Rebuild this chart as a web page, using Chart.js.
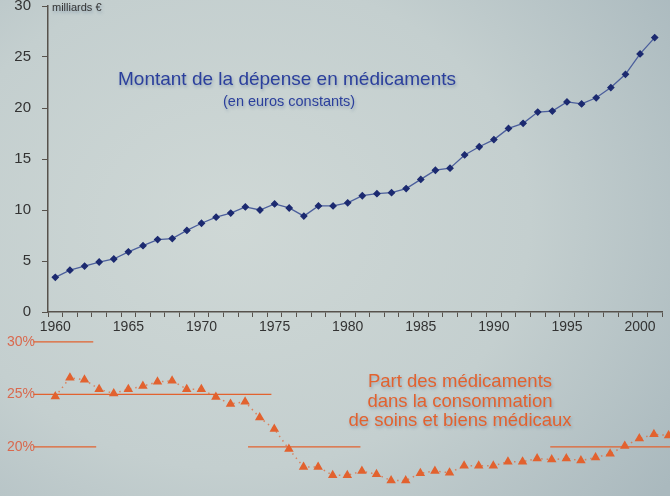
<!DOCTYPE html>
<html>
<head>
<meta charset="utf-8">
<script src="https://cdn.jsdelivr.net/npm/chart.js@4"></script>
<style>
  html, body { margin: 0; padding: 0; }
  body {
    width: 670px; height: 496px; overflow: hidden; position: relative;
    background: radial-gradient(ellipse 80% 90% at 35% 45%, #cfd8d6 0%, #c4cfcf 55%, #aab9be 100%);
    font-family: "Liberation Sans", Arial, sans-serif;
  }
  #top { position: absolute; left: 0; top: 0; }
  #bottom { position: absolute; left: 0; top: 332px; }
  .note { position: absolute; white-space: nowrap; text-shadow: 1px 2px 3px rgba(90,120,150,0.45); }
  #unit { left: 52px; top: 1px; font-size: 11px; color: #333; }
  #title1 { left: 118px; top: 68px; font-size: 19px; color: #2b3f9c; }
  #title2 { left: 223px; top: 93px; font-size: 14.5px; color: #2b3f9c; }
  #title3 { left: 320px; top: 371px; width: 280px; text-align: center; font-size: 18.5px; line-height: 19.5px; color: #e2622f; }
</style>
</head>
<body>
<canvas id="top" width="670" height="340"></canvas>
<canvas id="bottom" width="670" height="164"></canvas>
<div class="note" id="unit">milliards €</div>
<div class="note" id="title1">Montant de la dépense en médicaments</div>
<div class="note" id="title2">(en euros constants)</div>
<div class="note" id="title3">Part des médicaments<br>dans la consommation<br>de soins et biens médicaux</div>
<script>
Chart.defaults.font.family = '"Liberation Sans", Arial, sans-serif';

// dépense en médicaments, milliards d'euros constants, 1960-2001
const years = [];
for (let y = 1960; y <= 2001; y++) years.push(String(y));
const depense = [3.4, 4.1, 4.5, 4.9, 5.2, 5.9, 6.5, 7.1, 7.2, 8.0,
                 8.7, 9.3, 9.7, 10.3, 10.0, 10.6, 10.2, 9.4, 10.4, 10.4,
                 10.7, 11.4, 11.6, 11.7, 12.1, 13.0, 13.9, 14.1, 15.4, 16.2,
                 16.9, 18.0, 18.5, 19.6, 19.7, 20.6, 20.4, 21.0, 22.0, 23.3,
                 25.3, 26.9];

// part des médicaments dans la CSBM (%), 1960-2002
const partYears = [];
for (let y = 1960; y <= 2002; y++) partYears.push(y);
const part = [24.8, 26.6, 26.4, 25.5, 25.1, 25.5, 25.8, 26.2, 26.3, 25.5,
              25.5, 24.75, 24.1, 24.3, 22.8, 21.7, 19.8, 18.1, 18.1, 17.3,
              17.3, 17.7, 17.4, 16.8, 16.8, 17.5, 17.7, 17.55, 18.2, 18.2,
              18.2, 18.6, 18.6, 18.9, 18.8, 18.9, 18.7, 19.0, 19.35, 20.1,
              20.8, 21.2, 21.1];

// repères horizontaux du graphique du bas (niveau, début, fin en années)
const refLevels = [30, 25, 20, 20, 20];
const refStarts = [1958.5, 1958.5, 1958.5, 1973.2, 1993.9];
const refEnds   = [1962.6, 1974.8, 1962.8, 1980.9, 2003];
const pctTicks = [20, 25, 30];

const axisColor = '#57524c';
const orange = '#e2622f';

new Chart(document.getElementById('top'), {
  type: 'line',
  data: {
    labels: years,
    datasets: [{
      data: depense,
      borderColor: '#4c5f9c',
      borderWidth: 1.3,
      pointStyle: 'rectRot',
      pointRadius: 3,
      pointBackgroundColor: '#1c2a70',
      pointBorderColor: '#1c2a70',
      tension: 0
    }]
  },
  options: {
    responsive: false,
    animation: false,
    layout: { padding: { top: 6, right: 8, left: 0, bottom: 0 }, autoPadding: false },
    plugins: { legend: { display: false }, tooltip: { enabled: false } },
    scales: {
      x: {
        offset: true,
        grid: { offset: true, drawOnChartArea: false, color: axisColor, tickLength: 5, lineWidth: 1 },
        border: { color: axisColor, width: 1.5 },
        ticks: {
          autoSkip: false, maxRotation: 0, padding: 2,
          color: '#333', font: { size: 14 },
          callback: function (v, i) { return (1960 + i) % 5 === 0 ? this.getLabelForValue(v) : ''; }
        },
        afterFit: s => { s.height = 28; s.paddingLeft = 0; s.paddingRight = 0; }
      },
      y: {
        min: 0, max: 30,
        grid: { drawOnChartArea: false, color: axisColor, tickLength: 6 },
        border: { color: axisColor, width: 1.5 },
        ticks: { stepSize: 5, padding: 11, color: '#333', font: { size: 15 } },
        afterFit: s => { s.width = 48; s.paddingTop = 0; s.paddingBottom = 0; }
      }
    }
  }
});

const refSets = refLevels.map((lv, i) => ({
  data: [{ x: refStarts[i], y: lv }, { x: refEnds[i], y: lv }],
  borderColor: orange,
  borderWidth: 1.3,
  pointRadius: 0,
  clip: false
}));

new Chart(document.getElementById('bottom'), {
  type: 'line',
  data: {
    datasets: [{
      data: partYears.map((y, i) => ({ x: y, y: part[i] })),
      borderColor: 'rgba(226,98,47,0.7)',
      borderWidth: 1.5,
      borderDash: [1.5, 4],
      pointStyle: 'triangle',
      pointRadius: 4,
      pointBackgroundColor: orange,
      pointBorderColor: orange,
      clip: false
    }, ...refSets]
  },
  options: {
    responsive: false,
    animation: false,
    layout: { padding: 0, autoPadding: false },
    plugins: { legend: { display: false }, tooltip: { enabled: false } },
    scales: {
      x: { type: 'linear', min: 1959.5, max: 2002.1, display: false },
      y: {
        min: 15.33, max: 30.95,
        grid: { display: false, drawTicks: false },
        border: { display: false },
        afterBuildTicks: s => { s.ticks = pctTicks.map(v => ({ value: v })); },
        ticks: { padding: 13, color: '#d9694e', font: { size: 14 }, callback: v => v + '%' },
        afterFit: s => { s.width = 48; s.paddingTop = 0; s.paddingBottom = 0; }
      }
    }
  }
});
</script>
</body>
</html>
